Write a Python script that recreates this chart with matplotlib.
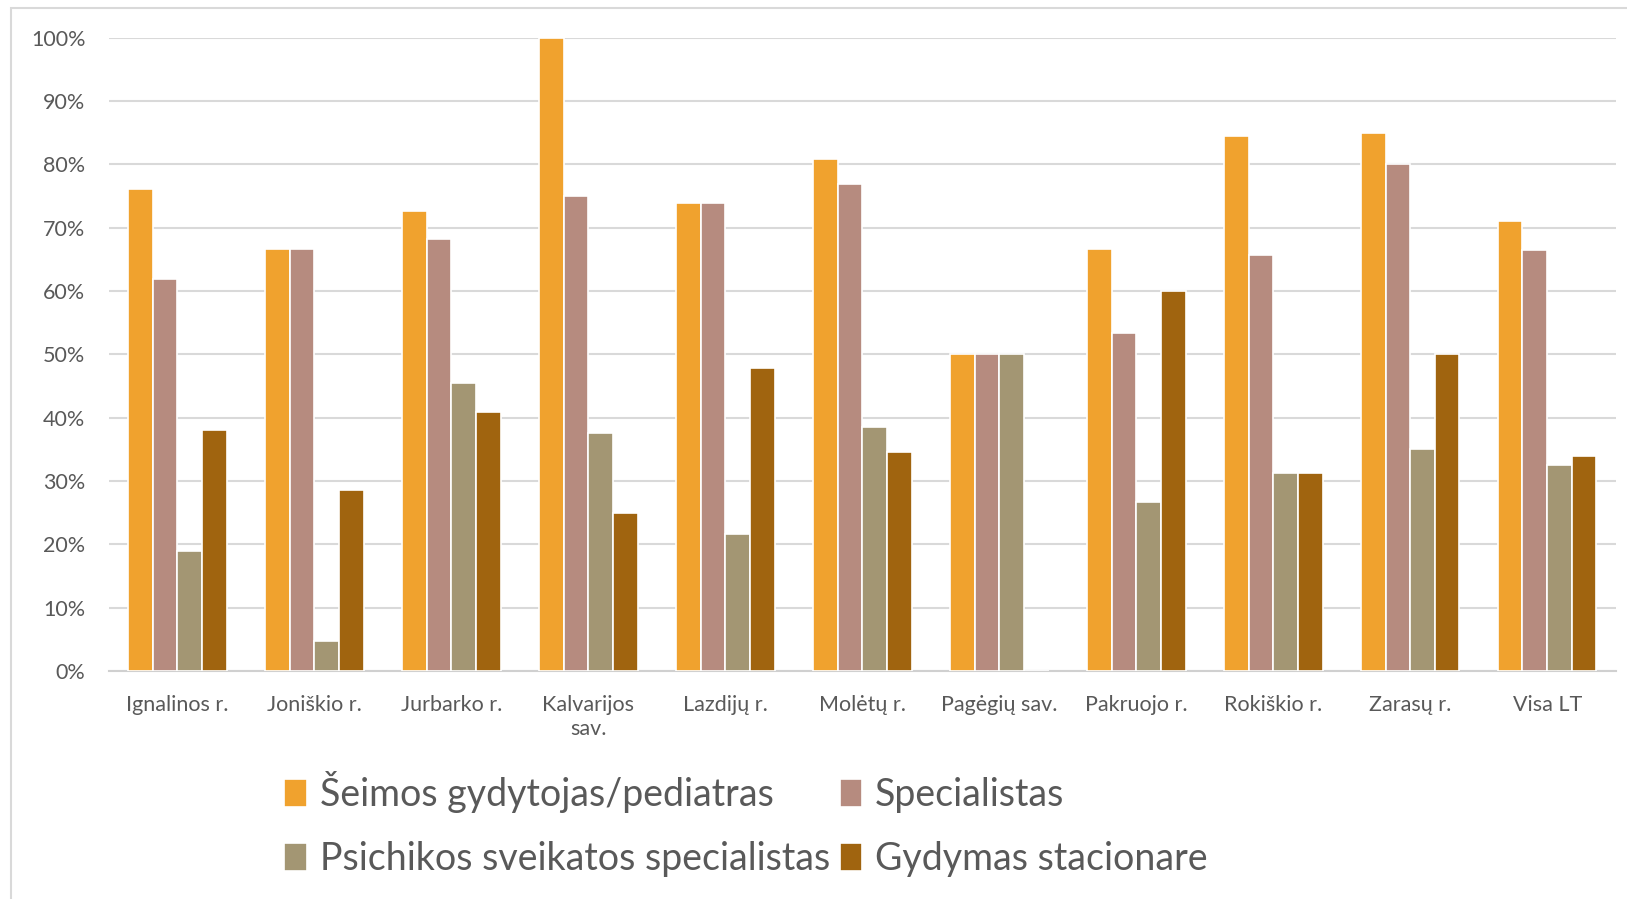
import numpy as np
import matplotlib.pyplot as plt
from matplotlib.patches import Rectangle
from matplotlib.ticker import PercentFormatter

plt.rcParams['font.family'] = ['Lato', 'DejaVu Sans']

# savivaldybės
vietos = ['Ignalinos r.', 'Joniškio r.', 'Jurbarko r.', 'Kalvarijos\nsav.', 'Lazdijų r.',
          'Molėtų r.', 'Pagėgių sav.', 'Pakruojo r.', 'Rokiškio r.', 'Zarasų r.', 'Visa LT']

# procentai pagal kreipimosi vietą
seimos = [76.1, 66.7, 72.7, 100, 73.9, 80.8, 50, 66.7, 84.4, 85.0, 71.0]
specialistas = [61.9, 66.7, 68.2, 75.0, 73.9, 76.9, 50, 53.3, 65.6, 80.0, 66.5]
psichikos = [19.0, 4.8, 45.5, 37.5, 21.7, 38.5, 50, 26.7, 31.3, 35.0, 32.6]
stacionare = [38.1, 28.6, 40.9, 25.0, 47.8, 34.6, 0, 60.0, 31.3, 50.0, 34.0]

serijos = ['Šeimos gydytojas/pediatras', 'Specialistas',
           'Psichikos sveikatos specialistas', 'Gydymas stacionare']
spalvos = ['#F0A22E', '#B68B7F', '#A39673', '#A0640F']

fig = plt.figure(figsize=(16.27, 8.99), dpi=100)
ax = fig.add_axes([0.067, 0.2536, 0.926, 0.7046])

x = np.arange(len(vietos))
w = 0.18
stulpai = []
for i, (vals, c, lab) in enumerate(zip([seimos, specialistas, psichikos, stacionare], spalvos, serijos)):
    b = ax.bar(x + (i - 1.5) * w, vals, w, color=c, edgecolor='white', linewidth=1.2, label=lab, zorder=3)
    stulpai.append(b)

ax.set_xlim(-0.5, len(vietos) - 0.5)
ax.set_ylim(0, 100)
ax.set_yticks(np.arange(0, 101, 10))
ax.yaxis.set_major_formatter(PercentFormatter(decimals=0))
ax.grid(axis='y', color='#d9d9d9', linewidth=1.5, zorder=0)
ax.set_xticks(x)
ax.set_xticklabels(vietos, fontsize=15.5, color='#595959', linespacing=1.3)
ax.tick_params(axis='y', labelsize=15.5, labelcolor='#595959', length=0, pad=17)
ax.tick_params(axis='x', length=0, pad=17)
for s in ['top', 'right', 'left']:
    ax.spines[s].set_visible(False)
ax.spines['bottom'].set_color('#d0d0d0')
ax.spines['bottom'].set_linewidth(1.5)

# legenda eilutėmis: pirma eilutė 1,2; antra 3,4
tvarka = [0, 2, 1, 3]
leg = fig.legend([stulpai[i] for i in tvarka], [serijos[i] for i in tvarka],
                 loc='upper left', bbox_to_anchor=(0.154, 0.180), ncol=2, frameon=False,
                 fontsize=27, labelcolor='#595959', handlelength=0.6, handleheight=0.8,
                 handletextpad=0.35, columnspacing=0.25, labelspacing=0.75)

# rėmelis aplink diagramą
fig.patches.append(Rectangle((0.0065, -0.01), 1.0, 1.001, transform=fig.transFigure,
                             fill=False, edgecolor='#d9d9d9', linewidth=1.5))

fig.savefig('out.png', dpi=100)
